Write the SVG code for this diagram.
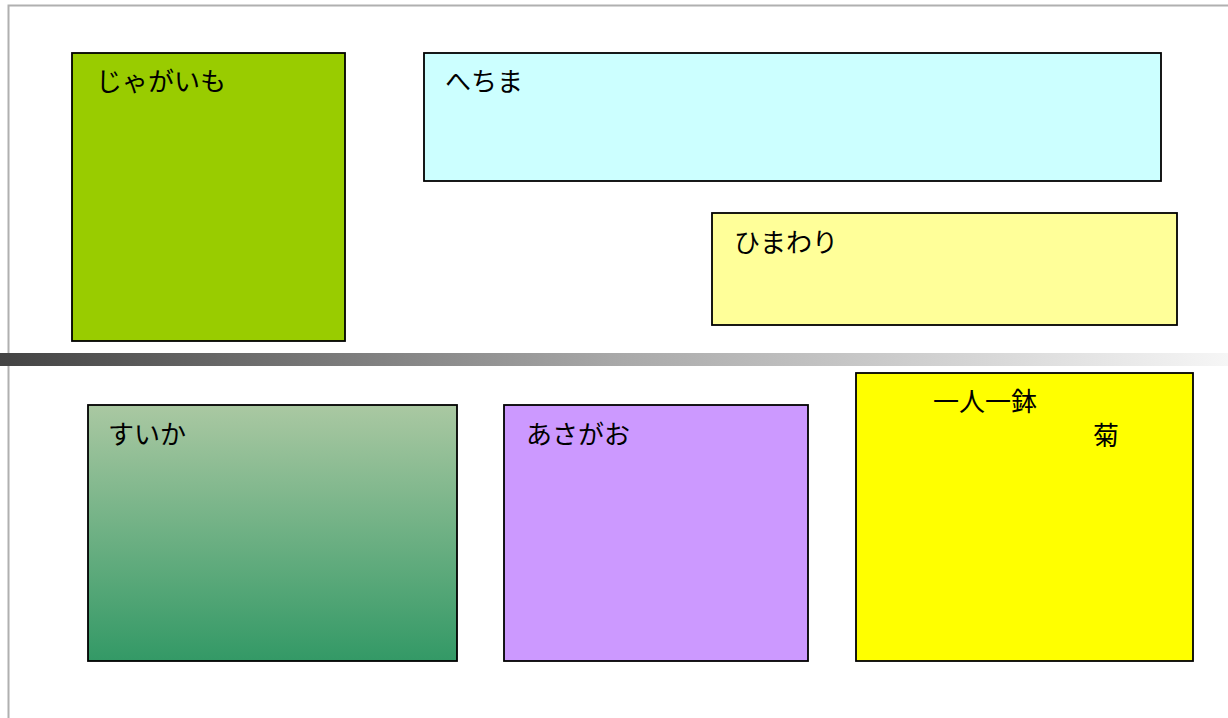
<svg xmlns="http://www.w3.org/2000/svg" width="1228" height="718" viewBox="0 0 1228 718">
<style>
.box{stroke:#000;stroke-width:1.8}
.lbl{font-family:"Noto Sans CJK JP","Noto Sans CJK SC",sans-serif;font-size:26px;fill:#000}
</style>
<defs>
<linearGradient id="bar" x1="0" y1="0" x2="1" y2="0">
<stop offset="0" stop-color="#434343"/>
<stop offset="0.5" stop-color="#a8a8a8"/>
<stop offset="1" stop-color="#f6f6f6"/>
</linearGradient>
<linearGradient id="melon" x1="0" y1="0" x2="0" y2="1">
<stop offset="0" stop-color="#aac8a2"/>
<stop offset="1" stop-color="#339966"/>
</linearGradient>
</defs>
<rect width="1228" height="718" fill="#fff"/>
<path d="M8.5 718V5.5H1228" fill="none" stroke="#b0b0b0" stroke-width="2"/>
<rect x="0" y="353" width="1228" height="13" fill="url(#bar)"/>
<g id="jagaimo"><rect class="box" x="72" y="53" width="273" height="288" fill="#99cc00"/><text class="lbl" x="96" y="91">じゃがいも</text></g>
<g id="hechima"><rect class="box" x="424" y="53" width="737" height="128" fill="#ccffff"/><text class="lbl" x="445" y="91">へちま</text></g>
<g id="himawari"><rect class="box" x="712" y="213" width="465" height="112" fill="#ffff99"/><text class="lbl" x="734" y="252">ひまわり</text></g>
<g id="suika"><rect class="box" x="88" y="405" width="369" height="256" fill="url(#melon)"/><text class="lbl" x="108" y="444">すいか</text></g>
<g id="asagao"><rect class="box" x="504" y="405" width="304" height="256" fill="#cc99ff"/><text class="lbl" x="526" y="444">あさがお</text></g>
<g id="kiku"><rect class="box" x="856" y="373" width="337" height="288" fill="#ffff00"/><text class="lbl" x="933" y="411">一人一鉢</text><text class="lbl" x="1093" y="445">菊</text></g>
<g id="connectors"/>
</svg>
